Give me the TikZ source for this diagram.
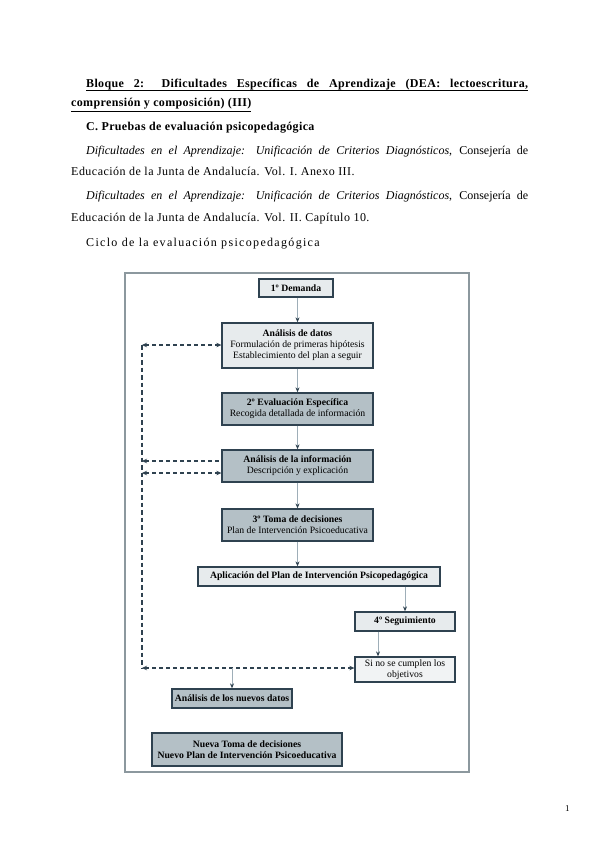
\documentclass[tikz,border=0pt]{standalone}
\usepackage{fontspec}
\setmainfont{Liberation Serif}
\newfontfamily\romsp[LetterSpace=4]{Liberation Serif}
\newfontfamily\romwide[LetterSpace=11]{Liberation Serif}
\newfontfamily\boldsp[LetterSpace=3]{Liberation Serif}
\usetikzlibrary{arrows.meta}
\definecolor{bxdark}{HTML}{2F4250}
\definecolor{filllight}{HTML}{E7EBED}
\definecolor{filldark}{HTML}{B4C0C6}
\definecolor{lnline}{HTML}{9EAEB8}
\definecolor{framec}{HTML}{8C989E}
\tikzset{
  x=1pt, y=-1pt,
  bx/.style={draw=bxdark, line width=1.3pt, font=\fontsize{9.7}{11}\selectfont, align=center, inner sep=1pt},
  lightbx/.style={bx, fill=filllight},
  darkbx/.style={bx, fill=filldark},
  flow/.style={draw=lnline, line width=1pt, -{Stealth[length=5pt,width=4pt,color=bxdark]}},
  dsh/.style={draw=bxdark, line width=1.3pt, dash pattern=on 4pt off 3pt, {Stealth[length=5pt,width=4.5pt]}-{Stealth[length=5pt,width=4.5pt]}},
  dshl/.style={draw=bxdark, line width=1.3pt, dash pattern=on 4pt off 3pt, {Stealth[length=5pt,width=4.5pt]}-},
  vdsh/.style={draw=bxdark, line width=2pt, dash pattern=on 4.5pt off 3pt},
  bodytxt/.style={anchor=base west, inner sep=0pt, font=\fontsize{12}{14}\selectfont\romsp},
  widetxt/.style={anchor=base west, inner sep=0pt, font=\fontsize{12}{14}\selectfont\romwide},
  plaintxt/.style={anchor=base west, inner sep=0pt, font=\fontsize{12}{14}\selectfont\rmfamily},
  boldtxt/.style={anchor=base west, inner sep=0pt, font=\fontsize{12}{14}\selectfont\boldsp\bfseries},
}
\begin{document}
\begin{tikzpicture}
\useasboundingbox[fill=white] (0,0) rectangle (599,848);
% header text
\node[boldtxt] (h1) at (86,88) {\makebox[442pt][s]{Bloque 2: Dificultades Específicas de Aprendizaje (DEA: lectoescritura,}};
\draw[line width=0.6pt] (h1.base west) ++(0,2.5) coordinate (u1) -- (h1.base east |- u1);
\node[boldtxt] (h2) at (71,107) {\underline{comprensión y composición) (III)}};
\node[boldtxt] (h3) at (86,131) {C. Pruebas de evaluación psicopedagógica};
\node[plaintxt] (p1a) at (86,154) {\makebox[442pt][s]{\itshape Dificultades en el Aprendizaje: Unificación de Criterios Diagnósticos\upshape, Consejería de}};
\node[bodytxt] (p1b) at (71,175) {Educación de la Junta de Andalucía. Vol. I. Anexo III.};
\node[plaintxt] (p2a) at (86,199) {\makebox[442pt][s]{\itshape Dificultades en el Aprendizaje: Unificación de Criterios Diagnósticos\upshape, Consejería de}};
\node[bodytxt] (p2b) at (71,221) {Educación de la Junta de Andalucía. Vol. II. Capítulo 10.};
\node[widetxt] (p3) at (86,246) {Ciclo de la evaluación psicopedagógica};
\node[plaintxt, font=\fontsize{9}{10}\selectfont] (pg) at (565,811) {1};
% frame
\node[draw=framec, line width=1.3pt, minimum width=344pt, minimum height=499pt, inner sep=0pt] (frame) at (297,522.5) {};
% boxes
\node[lightbx, minimum width=74pt, minimum height=18pt] (dem) at (296,288) {\bfseries 1º Demanda};
\node[lightbx, minimum width=151pt, minimum height=45pt] (ad) at (297.5,345.5) {\bfseries Análisis de datos\\Formulación de primeras hipótesis\\Establecimiento del plan a seguir};
\node[darkbx, minimum width=151pt, minimum height=32pt] (ee) at (297.5,409) {\bfseries 2º Evaluación Específica\\Recogida detallada de información};
\node[darkbx, minimum width=151pt, minimum height=32pt] (ai) at (297.5,466) {\bfseries Análisis de la información\\Descripción y explicación};
\node[darkbx, minimum width=151pt, minimum height=32pt] (td) at (297.5,525) {\bfseries 3º Toma de decisiones\\Plan de Intervención Psicoeducativa};
\node[lightbx, minimum width=242pt, minimum height=19pt] (ap) at (319,576.5) {\bfseries Aplicación del Plan de Intervención Psicopedagógica};
\node[lightbx, minimum width=100pt, minimum height=19pt] (seg) at (405,621.5) {\bfseries 4º Seguimiento};
\node[lightbx, fill=filllight!60, minimum width=100pt, minimum height=25pt] (sino) at (405,669.5) {Si no se cumplen los\\objetivos};
\node[darkbx, minimum width=120pt, minimum height=19pt] (and) at (232,698.5) {\bfseries Análisis de los nuevos datos};
\node[darkbx, minimum width=190pt, minimum height=33pt] (nt) at (247,749.5) {\bfseries Nueva Toma de decisiones\\\bfseries Nuevo Plan de Intervención Psicoeducativa};
% solid flow
\draw[flow] (dem.south -| ad.north) -- (ad.north);
\draw[flow] (ad) -- (ee);
\draw[flow] (ee) -- (ai);
\draw[flow] (ai) -- (td);
\draw[flow] (td.south) -- (td.south |- ap.north);
\coordinate (apx) at (405,0);
\draw[flow] (ap.south -| apx) -- (seg.north);
\coordinate (segx) at (378,0);
\draw[flow] (seg.south -| segx) -- (sino.north -| segx);
% dashed loop
\coordinate (ltop) at (142,345);
\coordinate (lbot) at (142,668);
\coordinate (dropx) at (232,668);
\draw[vdsh] (ltop) -- (lbot);
\draw[dsh] (ltop) -- (ad.west |- ltop);
\draw[dshl] (ltop |- 0,461) -- (ai.west |- 0,461);
\draw[dsh] (ltop |- 0,473) -- (ai.west |- 0,473);
\draw[dsh] (lbot) -- (sino.west |- lbot);
\draw[flow] (dropx) -- (and.north);
\end{tikzpicture}
\end{document}
